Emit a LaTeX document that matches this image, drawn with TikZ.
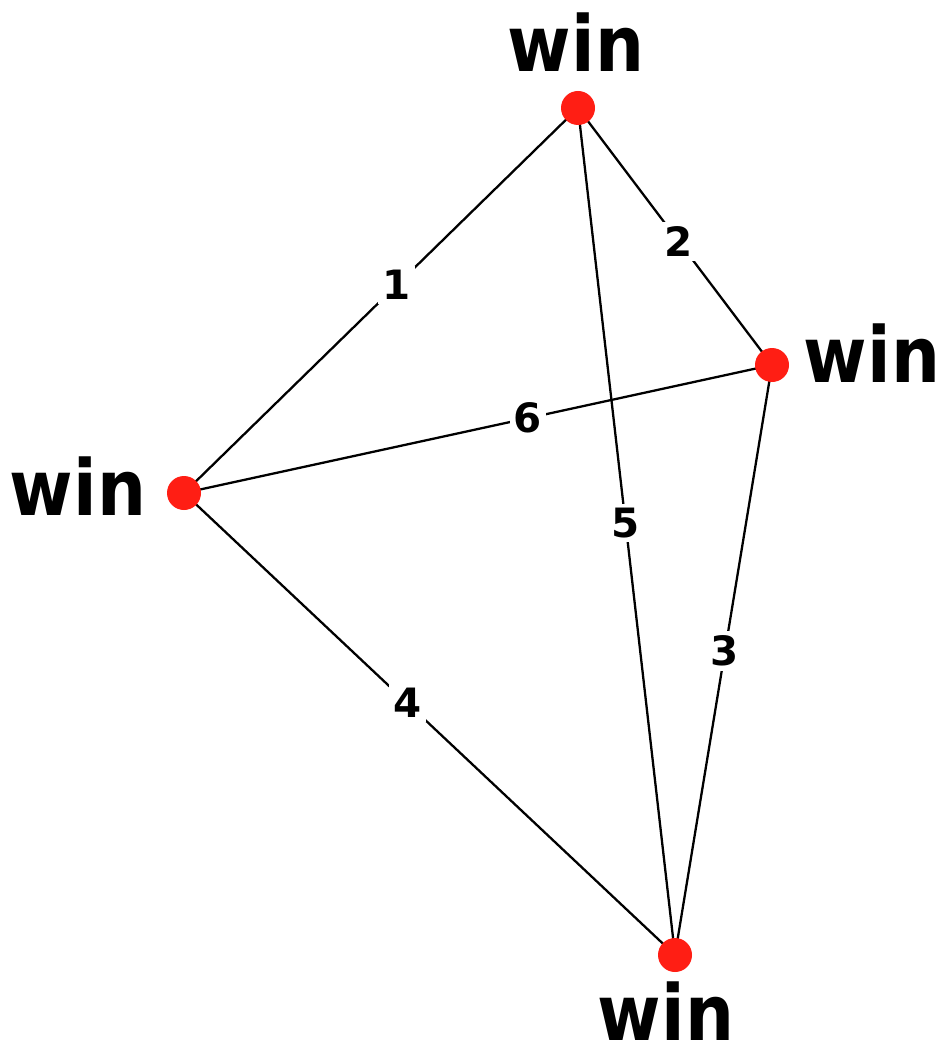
\documentclass[tikz,border=0pt]{standalone}
\usepackage{fontspec}
\usepackage{graphicx}
\newfontfamily\winfont{DejaVu Sans}[BoldFont={DejaVu Sans Bold}]
\newcommand{\winword}{\scalebox{0.89}[1]{win}}
\begin{document}
\begin{tikzpicture}[x=0.02cm,y=-0.02cm,
  vert/.style={circle,fill={rgb,255:red,255;green,30;blue,20},minimum size=34*0.02cm,inner sep=0pt},
  winlabel/.style={anchor=base,inner sep=0pt,font=\winfont\bfseries\fontsize{44}{44}\selectfont},
  edge/.style={line width=1.3pt,black},
  elab/.style={fill=white,inner sep=2.5pt,font=\winfont\bfseries\fontsize{23}{23}\selectfont}]
\useasboundingbox (0,0) rectangle (945,1043);
\fill[white] (0,0) rectangle (945,1043);
\coordinate (T) at (578,108);
\coordinate (R) at (772,365);
\coordinate (L) at (184,493);
\coordinate (B) at (675,955);
\draw[edge] (L) -- (T) node[elab,pos=0.54] (e1) {1};
\draw[edge] (T) -- (R) node[elab,pos=0.52] (e2) {2};
\draw[edge] (L) -- (R) node[elab,pos=0.585] (e6) {6};
\draw[edge] (T) -- (B) node[elab,pos=0.49] (e5) {5};
\draw[edge] (R) -- (B) node[elab,pos=0.485] (e3) {3};
\draw[edge] (L) -- (B) node[elab,pos=0.455] (e4) {4};
\node[vert] (vT) at (T) {};
\node[vert] (vR) at (R) {};
\node[vert] (vL) at (L) {};
\node[vert] (vB) at (B) {};
\node[winlabel] (wT) at (576,72) {\winword};
\node[winlabel] (wR) at (872,382) {\winword};
\node[winlabel] (wL) at (78,515) {\winword};
\node[winlabel] (wB) at (666,1040) {\winword};
\end{tikzpicture}
\end{document}
